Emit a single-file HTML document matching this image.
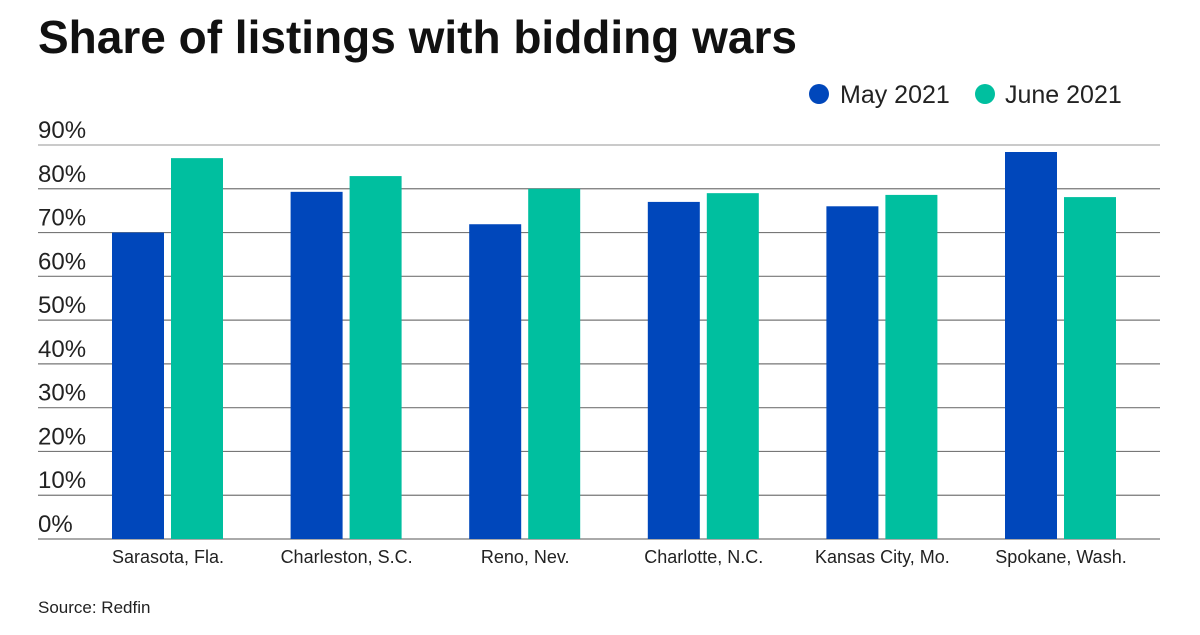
<!DOCTYPE html>
<html><head><meta charset="utf-8"><style>
body{margin:0;background:#fff;font-family:"Liberation Sans",sans-serif;}
svg text{font-family:"Liberation Sans",sans-serif;}
</style></head><body>
<svg width="1200" height="630" xmlns="http://www.w3.org/2000/svg">
<text x="38" y="53" font-size="46" font-weight="bold" fill="#111" textLength="759" lengthAdjust="spacingAndGlyphs">Share of listings with bidding wars</text>
<g>
<circle cx="819" cy="94" r="10" fill="#0047bb"/>
<text x="840" y="103" font-size="25" fill="#222">May 2021</text>
<circle cx="985" cy="94" r="10" fill="#00bf9f"/>
<text x="1005" y="103" font-size="25" fill="#222">June 2021</text>
</g>
<g id="grid"></g>
<g id="bars"></g>
<g id="xlabels"></g>
<text x="38" y="613" font-size="17" fill="#222">Source: Redfin</text>
</svg>
<script>
const categories=["Sarasota, Fla.","Charleston, S.C.","Reno, Nev.","Charlotte, N.C.","Kansas City, Mo.","Spokane, Wash."];
const may2021=[70,79.3,71.9,77,76,88.4];
const june2021=[87,82.9,80,79,78.6,78.1];
const yTicks=[0,10,20,30,40,50,60,70,80,90];
const NS="http://www.w3.org/2000/svg";
const x0=38,x1=1160,y0=539,yTop=145;
const y=v=>y0-(v/90)*(y0-yTop);
const cx=i=>168+i*178.6;
function mk(t,a,p){const e=document.createElementNS(NS,t);for(const k in a)e.setAttribute(k,a[k]);p.appendChild(e);return e;}
const g=document.getElementById('grid');
yTicks.forEach(v=>{
 const l=mk('line',{x1:x0,x2:x1,y1:y(v),y2:y(v),stroke:v===90?'#aaa':'#777','stroke-width':1.2},g);
 
 
 const t=mk('text',{x:x0,y:y(v)-7,'font-size':24,fill:'#222'},g);
 t.textContent=v+'%';
 
 
});
const b=document.getElementById('bars');
const xl=document.getElementById('xlabels');
categories.forEach((c,i)=>{
 const r1=mk('rect',{x:cx(i)-56,y:y(may2021[i]),width:52,height:y0-y(may2021[i]),fill:'#0047bb'},b);
 
 
 const r2=mk('rect',{x:cx(i)+3,y:y(june2021[i]),width:52,height:y0-y(june2021[i]),fill:'#00bf9f'},b);
 
 
 const t=mk('text',{x:cx(i),y:563,'font-size':18,fill:'#222','text-anchor':'middle'},xl);
 t.textContent=c;
 
 
});
</script>
</body></html>
